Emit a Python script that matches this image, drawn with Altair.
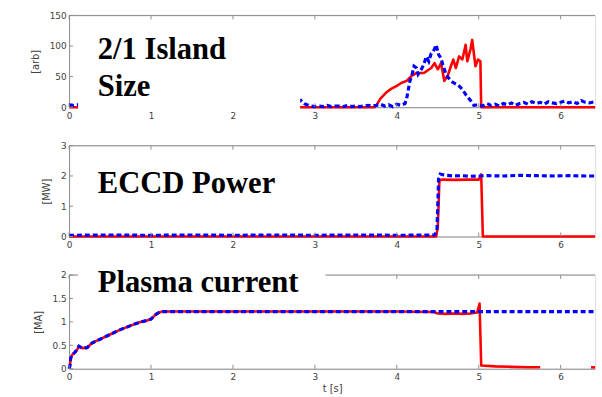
import altair as alt
import pandas as pd

# ---------------- data ----------------
# Panel 1: 2/1 island size [arb]
island_red_t = [0.0, 1.0, 2.0, 3.0, 3.73, 3.75, 3.8, 3.87, 3.93, 4.0, 4.06, 4.12, 4.18, 4.24, 4.33,
                4.42, 4.46, 4.5, 4.54, 4.58, 4.62, 4.66, 4.69, 4.72, 4.76, 4.8, 4.84, 4.86, 4.9,
                4.92, 4.96, 4.99, 5.02, 5.03, 5.5, 6.0, 6.42]
island_red_v = [0, 0, 0, 0, 0, 3, 14, 24, 30, 35, 40, 43, 51, 56, 56,
                64, 72, 62, 72, 43, 51, 67, 78, 64, 83, 78, 102, 75, 95,
                110, 67, 78, 75, 0, 0, 0, 0]

island_blue_t = [0.0, 0.05, 0.1, 0.5, 1.0, 1.5, 2.0, 2.5, 2.8, 2.83, 2.87, 2.9, 2.95, 3.0, 3.05,
                 3.1, 3.15, 3.2, 3.25, 3.3, 3.35, 3.4, 3.45, 3.5, 3.55, 3.6, 3.65, 3.7, 3.75,
                 3.8, 3.85, 3.9, 3.95, 4.0, 4.05, 4.1, 4.12, 4.16, 4.18, 4.21, 4.24, 4.26, 4.3,
                 4.33, 4.36, 4.39, 4.42, 4.44, 4.46, 4.48, 4.51, 4.54, 4.56, 4.6, 4.63, 4.66,
                 4.69, 4.72, 4.75, 4.78, 4.81, 4.84, 4.87, 4.9, 4.94, 5.0, 5.05, 5.1, 5.15,
                 5.2, 5.25, 5.3, 5.35, 5.4, 5.45, 5.5, 5.55, 5.6, 5.65, 5.7, 5.75, 5.8, 5.85,
                 5.9, 5.95, 6.0, 6.05, 6.1, 6.15, 6.2, 6.25, 6.3, 6.35, 6.42]
island_blue_v = [4, 3, 4, 3, 3, 3, 3, 3, 9, 11, 6, 4, 2, 1, 2,
                 1, 3, 1, 2, 2, 1, 3, 1, 2, 1, 2, 3, 2, 3,
                 5, 2, 4, 1, 5, 3, 6, 14, 43, 50, 67, 64, 54, 62,
                 70, 83, 75, 88, 91, 95, 102, 86, 80, 70, 54, 48, 43,
                 40, 38, 36, 32, 27, 21, 16, 11, 3, 4, 2, 6, 3,
                 5, 2, 6, 4, 7, 3, 6, 8, 5, 9, 6, 8, 5, 9,
                 7, 6, 8, 10, 7, 9, 6, 11, 8, 7, 9]

# Panel 2: ECCD power [MW]
eccd_red_t = [0.0, 4.48, 4.5, 4.52, 4.55, 4.7, 4.85, 5.0, 5.03, 5.05, 5.5, 6.0, 6.42]
eccd_red_v = [0.0, 0.0, 0.3, 1.85, 1.88, 1.87, 1.88, 1.88, 2.05, 0.0, 0.0, 0.0, 0.0]

eccd_blue_t = [0.0, 0.5, 1.0, 1.5, 2.0, 2.5, 3.0, 3.5, 4.0, 4.46, 4.49, 4.51, 4.53, 4.6, 4.7,
               4.8, 4.9, 5.0, 5.1, 5.3, 5.5, 5.7, 5.9, 6.1, 6.3, 6.42]
eccd_blue_v = [0.04, 0.05, 0.04, 0.05, 0.04, 0.05, 0.04, 0.05, 0.04, 0.05, 0.2, 1.9, 2.06, 2.02, 2.0,
               2.01, 1.99, 2.0, 2.01, 2.0, 2.02, 2.01, 2.0, 2.01, 2.0, 2.0]

# Panel 3: plasma current [MA]
ip_ramp_t = [0.0, 0.01, 0.02, 0.04, 0.07, 0.1, 0.12, 0.16, 0.22, 0.28, 0.38, 0.5, 0.62, 0.75,
             0.86, 0.95, 1.0, 1.06, 1.1, 1.14, 1.2]
ip_ramp_v = [0.0, 0.06, 0.23, 0.3, 0.35, 0.41, 0.48, 0.44, 0.45, 0.55, 0.63, 0.73, 0.83, 0.92,
             0.99, 1.03, 1.06, 1.16, 1.2, 1.22, 1.22]

ip_red_tail_t = [2.0, 3.0, 4.0, 4.45, 4.5, 4.6, 4.7, 4.8, 4.9, 4.98, 5.01, 5.03, 5.2, 5.4, 5.6, 5.75]
ip_red_tail_v = [1.22, 1.22, 1.22, 1.21, 1.18, 1.17, 1.18, 1.17, 1.18, 1.2, 1.39, 0.07, 0.05, 0.04, 0.03, 0.03]
ip_red_late_t = [6.37, 6.42]
ip_red_late_v = [0.03, 0.03]

ip_blue_tail_t = [2.0, 3.0, 4.0, 5.0, 6.0, 6.42]
ip_blue_tail_v = [1.22, 1.22, 1.22, 1.22, 1.22, 1.22]

# axes
x_ticks = [0, 1, 2, 3, 4, 5, 6]
x_domain = [0, 6.42]
island_ticks = [0, 50, 100, 150]
eccd_ticks = [0, 1, 2, 3]
ip_ticks = [0, 0.5, 1, 1.5, 2]

# ---------------- styling ----------------
W = 533
GREY = "#8c8c8c"
LABEL = "#404040"
RED = "#ff0000"
BLUE = "#0000ff"


def panel(red_df, blue_df, y_domain, y_ticks, y_fmt, y_title, height, x_title, texts, box):
    xs = alt.Scale(domain=x_domain, nice=False, zero=False)
    ys = alt.Scale(domain=y_domain, nice=False, zero=False)
    xaxis = alt.Axis(values=x_ticks, format="d", ticks=False, grid=False, domainColor=GREY,
                     domainWidth=1, labelFont="DejaVu Sans", labelFontSize=9, labelColor=LABEL,
                     labelPadding=4, labelFlush=False, titleFont="DejaVu Sans", titleFontSize=10,
                     titleFontWeight="normal", titleColor=LABEL, titlePadding=2)
    yaxis = alt.Axis(values=y_ticks, format=y_fmt, ticks=False, grid=False, domainColor=GREY,
                     domainWidth=1, labelFont="DejaVu Sans", labelFontSize=9, labelColor=LABEL,
                     labelPadding=3, titleFont="DejaVu Sans", titleFontSize=10,
                     titleFontWeight="normal", titleColor=LABEL, titlePadding=9)
    X = alt.X("t:Q", scale=xs, axis=xaxis, title=x_title)
    Y = alt.Y("v:Q", scale=ys, axis=yaxis, title=y_title)

    red = alt.Chart(red_df).mark_line(color=RED, strokeWidth=2.6, strokeJoin="round").encode(
        x=X, y=Y, detail="seg:N")
    blue = alt.Chart(blue_df).mark_line(color=BLUE, strokeWidth=3.2, strokeDash=[5, 3]).encode(
        x=X, y=Y)
    one = pd.DataFrame({"a": [0]})
    top = alt.Chart(one).mark_rule(color=GREY, strokeWidth=1).encode(
        x=alt.value(0), x2=alt.value(W), y=alt.value(0))
    xt = pd.DataFrame({"t": x_ticks})
    yt = pd.DataFrame({"v": y_ticks})
    tick_top = alt.Chart(xt).mark_rule(color=GREY).encode(x=X, y=alt.value(0), y2=alt.value(4))
    tick_bot = alt.Chart(xt).mark_rule(color=GREY).encode(
        x=X, y=alt.value(height), y2=alt.value(height - 4))
    tick_left = alt.Chart(yt).mark_rule(color=GREY).encode(x=alt.value(0), x2=alt.value(4), y=Y)
    layers = [red, blue, top, tick_top, tick_bot, tick_left]
    if box is not None:
        bdf = pd.DataFrame([box])
        layers.append(alt.Chart(bdf).mark_rect(color="white").encode(
            x=X, x2="t2:Q", y=Y, y2="v2:Q"))
    tdf = pd.DataFrame(texts)
    layers.append(alt.Chart(tdf).mark_text(font="Liberation Serif", fontWeight="bold", fontSize=31,
                                           align="left", baseline="alphabetic", color="black").encode(
        x=X, y=Y, text="label:N"))
    return alt.layer(*layers).properties(width=W, height=height)


def frame(ts, vs, seg=0):
    return pd.DataFrame({"t": ts, "v": vs, "seg": [seg] * len(ts)})


p1 = panel(frame(island_red_t, island_red_v), frame(island_blue_t, island_blue_v),
           [0, 150], island_ticks, "d", "[arb]", 93, None,
           [{"t": 0.35, "v": 78.5, "label": "2/1 Island"}, {"t": 0.35, "v": 19, "label": "Size"}],
           {"t": 0.11, "t2": 2.82, "v": -6, "v2": 140})

p2 = panel(frame(eccd_red_t, eccd_red_v), frame(eccd_blue_t, eccd_blue_v),
           [0, 3], eccd_ticks, "d", "[MW]", 92, None,
           [{"t": 0.35, "v": 1.44, "label": "ECCD Power"}], None)

red3 = pd.concat([frame(ip_ramp_t + ip_red_tail_t, ip_ramp_v + ip_red_tail_v, 0),
                  frame(ip_red_late_t, ip_red_late_v, 1)], ignore_index=True)
blue3 = frame(ip_ramp_t + ip_blue_tail_t, ip_ramp_v + ip_blue_tail_v)
p3 = panel(red3, blue3, [0, 2], ip_ticks, "~g", "[MA]", 95, "t [s]",
           [{"t": 0.35, "v": 1.64, "label": "Plasma current"}],
           {"t": 0.11, "t2": 3.13, "v": 1.45, "v2": 2.15})

chart = alt.vconcat(p1, p2, p3, spacing=39, bounds="flush").properties(
    padding={"left": 30, "top": 8, "right": 0, "bottom": 0}
).configure_view(stroke=None).configure(background="white")

chart.save("out.html", embed_options={"renderer": "svg", "actions": False})
